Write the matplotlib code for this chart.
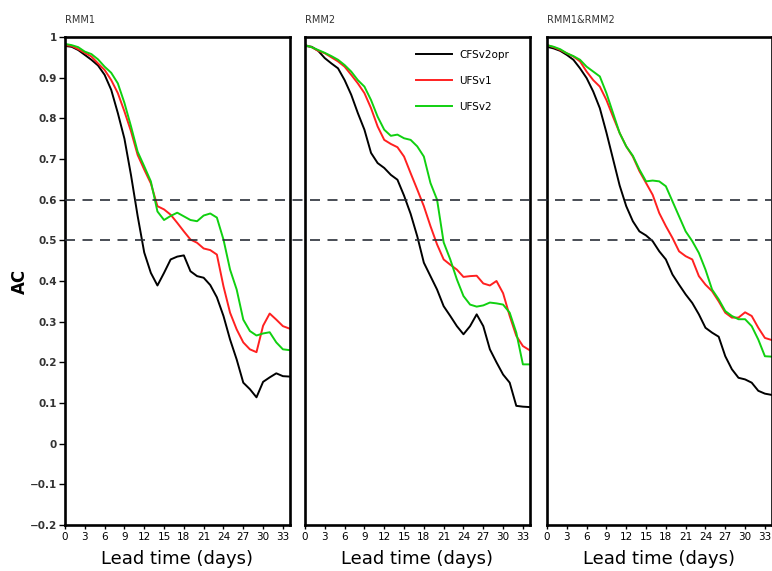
import numpy as np
import matplotlib
matplotlib.use('Agg')
import matplotlib.pyplot as plt
from matplotlib.lines import Line2D
from matplotlib.transforms import blended_transform_factory

# lead time in days
days = np.arange(0, 35)

# RMM1
rmm1_cfs = [0.978, 0.976, 0.968, 0.956, 0.944, 0.93, 0.907, 0.87, 0.813, 0.75, 0.66,
            0.56, 0.47, 0.42, 0.389, 0.42, 0.453, 0.46, 0.463, 0.424, 0.412, 0.408,
            0.39, 0.36, 0.314, 0.256, 0.207, 0.15, 0.134, 0.114, 0.152, 0.163, 0.173,
            0.166, 0.165]
rmm1_v1 = [0.98, 0.978, 0.97, 0.961, 0.952, 0.935, 0.919, 0.894, 0.862, 0.817, 0.768,
           0.71, 0.674, 0.64, 0.584, 0.576, 0.563, 0.543, 0.522, 0.502, 0.494, 0.48,
           0.476, 0.465, 0.387, 0.322, 0.281, 0.249, 0.232, 0.225, 0.29, 0.32, 0.305,
           0.289, 0.283]
rmm1_v2 = [0.983, 0.98, 0.975, 0.964, 0.958, 0.945, 0.927, 0.912, 0.886, 0.838, 0.78,
           0.718, 0.682, 0.645, 0.571, 0.55, 0.56, 0.568, 0.559, 0.55, 0.547, 0.561,
           0.566, 0.556, 0.502, 0.428, 0.379, 0.305, 0.277, 0.266, 0.271, 0.274, 0.249,
           0.232, 0.23]

# RMM2
rmm2_cfs = [0.978, 0.976, 0.966, 0.948, 0.935, 0.923, 0.894, 0.858, 0.813, 0.772, 0.715,
            0.69, 0.678, 0.661, 0.649, 0.61, 0.565, 0.51, 0.445, 0.412, 0.379, 0.338,
            0.314, 0.289, 0.269, 0.289, 0.318, 0.289, 0.232, 0.2, 0.17, 0.15, 0.093,
            0.091, 0.09]
rmm2_v1 = [0.98, 0.975, 0.966, 0.96, 0.95, 0.94, 0.927, 0.907, 0.886, 0.862, 0.825,
           0.78, 0.747, 0.737, 0.729, 0.706, 0.665, 0.625, 0.584, 0.535, 0.49, 0.453,
           0.44, 0.428, 0.41, 0.412, 0.413, 0.394, 0.389, 0.40, 0.37, 0.314, 0.265,
           0.24, 0.23]
rmm2_v2 = [0.98, 0.975, 0.968, 0.961, 0.953, 0.944, 0.931, 0.915, 0.894, 0.878, 0.845,
           0.804, 0.772, 0.757, 0.76, 0.751, 0.747, 0.731, 0.706, 0.641, 0.6, 0.495,
           0.453, 0.404, 0.363, 0.342, 0.337, 0.34, 0.347, 0.345, 0.342, 0.322, 0.273,
           0.195, 0.195]

# RMM1&RMM2
both_cfs = [0.976, 0.972, 0.966, 0.956, 0.944, 0.923, 0.899, 0.866, 0.825, 0.765, 0.70,
            0.635, 0.584, 0.547, 0.522, 0.512, 0.498, 0.473, 0.453, 0.416, 0.391, 0.367,
            0.346, 0.318, 0.285, 0.273, 0.263, 0.215, 0.183, 0.162, 0.158, 0.15, 0.13,
            0.123, 0.12]
both_v1 = [0.98, 0.975, 0.968, 0.96, 0.952, 0.94, 0.915, 0.894, 0.878, 0.845, 0.804,
           0.764, 0.731, 0.706, 0.67, 0.641, 0.612, 0.567, 0.535, 0.506, 0.473, 0.461,
           0.453, 0.412, 0.391, 0.375, 0.35, 0.322, 0.31, 0.31, 0.323, 0.314, 0.285,
           0.26, 0.255]
both_v2 = [0.98, 0.976, 0.97, 0.96, 0.953, 0.944, 0.927, 0.915, 0.903, 0.862, 0.813,
           0.764, 0.731, 0.708, 0.674, 0.645, 0.647, 0.645, 0.633, 0.596, 0.559, 0.522,
           0.498, 0.469, 0.428, 0.379, 0.355, 0.326, 0.314, 0.306, 0.306, 0.289, 0.256,
           0.215, 0.214]

titles = ['RMM1', 'RMM2', 'RMM1&RMM2']
series = [(rmm1_cfs, rmm1_v1, rmm1_v2), (rmm2_cfs, rmm2_v1, rmm2_v2),
          (both_cfs, both_v1, both_v2)]
labels = ['CFSv2opr', 'UFSv1', 'UFSv2']
colors = ['black', '#ff2020', '#10d010']
thresholds = [0.6, 0.5]
xticks = np.arange(0, 34, 3)
yticks = np.round(np.arange(-0.2, 1.01, 0.1), 1)

fig = plt.figure(figsize=(7.72, 5.71), dpi=100)
W, H = 772, 571
lefts = [65, 305, 547]
axes = []
for i, x0 in enumerate(lefts):
    ax = fig.add_axes([x0 / W, 1 - 525 / H, 224.5 / W, 488 / H])
    for s, c, lab in zip(series[i], colors, labels):
        ax.plot(days, s, color=c, lw=1.4, label=lab)
    ax.set_xlim(0, 34)
    ax.set_ylim(-0.2, 1.0)
    for sp in ax.spines.values():
        sp.set_linewidth(1.9)
    ax.set_xticks(xticks)
    ax.set_xticklabels([str(t) for t in xticks], fontsize=7.5)
    ax.tick_params(axis='x', direction='out', length=3, width=1, pad=2)
    if i == 0:
        ax.set_yticks(yticks)
        ax.set_yticklabels([('%g' % t).replace('-', '\u2212') for t in yticks],
                           fontsize=7.5, fontweight='bold', color='#333333')
        ax.tick_params(axis='y', direction='out', length=4, width=1, pad=2)
    else:
        ax.set_yticks([])
    ax.set_xlabel('Lead time (days)', fontsize=13, labelpad=6)
    ax.text(0.0, 1.025, titles[i], transform=ax.transAxes, fontsize=7,
            color='#333333', ha='left', va='bottom')
    axes.append(ax)

fig.text(20 / W, 1 - 281 / H, 'AC', rotation=90, fontsize=12, fontweight='bold',
         ha='center', va='center')

axes[1].legend(loc='upper left', bbox_to_anchor=(0.47, 0.985), frameon=False,
               fontsize=7.5, handlelength=3.5, handletextpad=0.7,
               labelspacing=1.55, borderpad=0)

# dashed reference lines run across all panels
tr = blended_transform_factory(fig.transFigure, axes[0].transData)
for t in thresholds:
    fig.add_artist(Line2D([65 / W, 1.0], [t, t], transform=tr, color='#2a2f38',
                          lw=1.2, ls=(0, (6, 4.5)), zorder=5))

fig.savefig('out.png', dpi=100)
